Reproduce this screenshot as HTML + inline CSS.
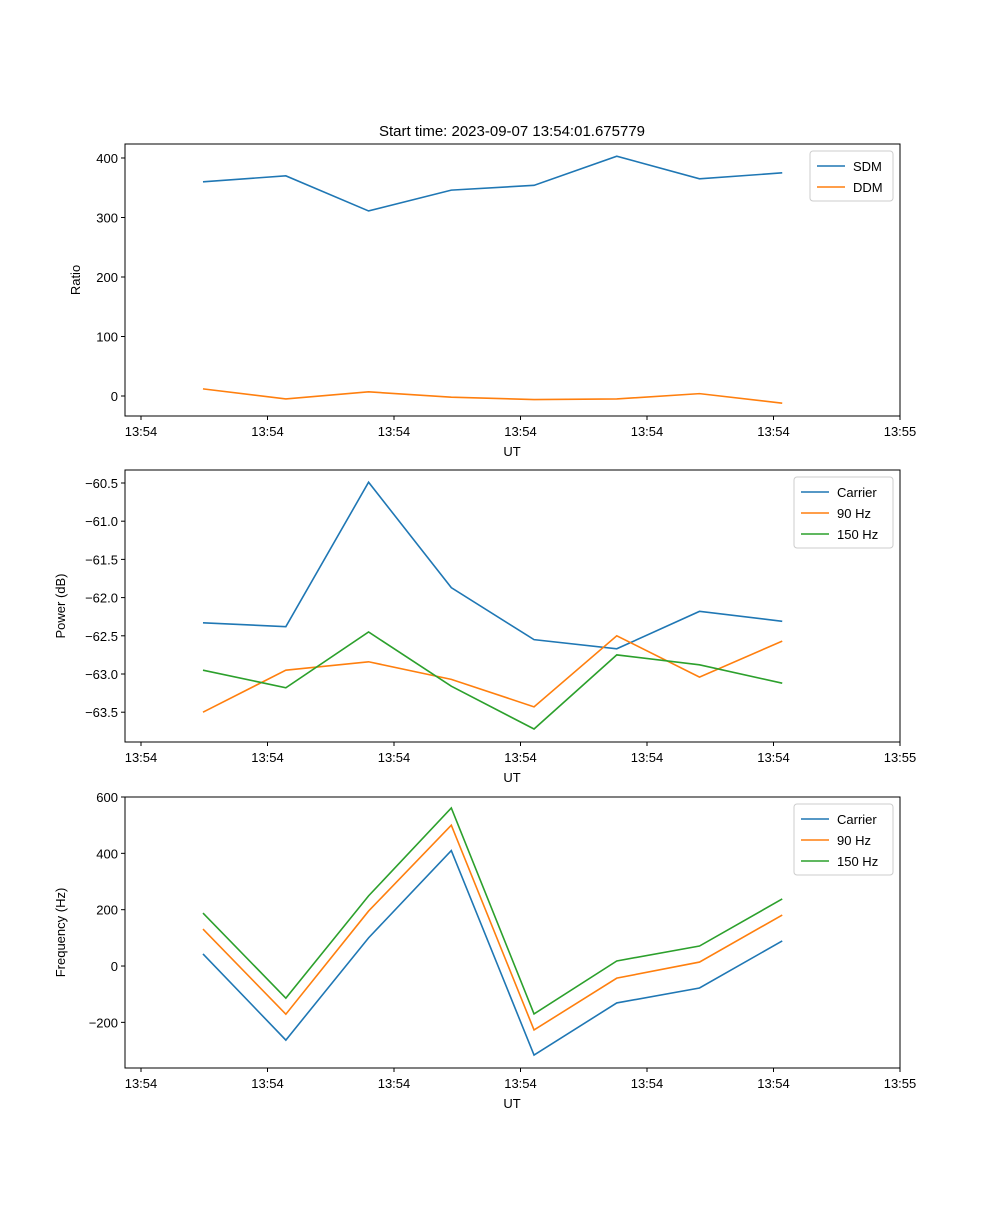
<!DOCTYPE html>
<html><head><meta charset="utf-8"><style>
body{margin:0;background:#fff}
svg text{font-family:"Liberation Sans","DejaVu Sans",sans-serif;fill:#000}
</style></head><body>
<svg id="fig" width="1000" height="1200" xmlns="http://www.w3.org/2000/svg">
<text x="512" y="136" font-size="15" text-anchor="middle">Start time: 2023-09-07 13:54:01.675779</text>
</svg>
<script>
const xTickLabels=["13:54","13:54","13:54","13:54","13:54","13:54","13:55"];
const times=[4.9,11.45,17.99,24.53,31.07,37.61,44.15,50.69];
const sdm=[360,370,311,346,354,403,365,375];
const ddm=[12,-5,7,-2,-6,-5,4,-12];
const pCarrier=[-62.33,-62.38,-60.49,-61.87,-62.55,-62.67,-62.18,-62.31];
const p90=[-63.50,-62.95,-62.84,-63.07,-63.43,-62.50,-63.04,-62.57];
const p150=[-62.95,-63.18,-62.45,-63.16,-63.72,-62.75,-62.88,-63.12];
const fCarrier=[43,-263,100,410,-316,-131,-78,89];
const f90=[131,-171,195,500,-227,-43,14,181];
const f150=[188,-114,249,561,-170,18,71,238];
const ratioTicks=[0,100,200,300,400];
const powerTicks=[-63.5,-63.0,-62.5,-62.0,-61.5,-61.0,-60.5];
const freqTicks=[-200,0,200,400,600];

const NS="http://www.w3.org/2000/svg";
const svg=document.getElementById('fig');
function el(t,a,p){const e=document.createElementNS(NS,t);for(const k in a)e.setAttribute(k,a[k]);(p||svg).appendChild(e);return e;}
const L=125,R=900;
function xs(t){return 141+(t/10)*126.5;}
const colors=["#1f77b4","#ff7f0e","#2ca02c"];
function panel(name,top,bot,ymin,ymax,yticks,fmt,ylabel,series,names,legW){
  const g=el('g',{});
  
  
  const ys=v=>bot-(v-ymin)/(ymax-ymin)*(bot-top);
  yticks.forEach(v=>{
    const y=ys(v);
    el('line',{x1:L-4,x2:L,y1:y,y2:y,stroke:'#000'},g);
    const t=el('text',{x:L-7,y:y+5,'font-size':13,'text-anchor':'end'},g);
    t.textContent=fmt(v);
    
    
  });
  xTickLabels.forEach((s,i)=>{
    const x=xs(i*10);
    el('line',{x1:x,x2:x,y1:bot,y2:bot+4,stroke:'#000'},g);
    const t=el('text',{x:x,y:bot+20,'font-size':13,'text-anchor':'middle'},g);
    t.textContent=s;
    
    
  });
  const xl=el('text',{x:512,y:bot+40,'font-size':13,'text-anchor':'middle'},g);
  xl.textContent='UT';
  
  
  const yl=el('text',{x:0,y:0,'font-size':13,'text-anchor':'middle',transform:`translate(${name==='ratio'?80:65},${(top+bot)/2}) rotate(-90)`},g);
  yl.textContent=ylabel;
  
  
  series.forEach((s,i)=>{
    const p=el('polyline',{points:s.map((v,j)=>xs(times[j])+','+ys(v)).join(' '),fill:'none',stroke:colors[i],'stroke-width':1.6},g);
    
    
  });
  el('rect',{x:L,y:top,width:R-L,height:bot-top,fill:'none',stroke:'#000','stroke-width':1},g);
  const lx=R-7-legW, ly=top+7, lh=8+names.length*21;
  const lg=el('g',{},g);
  
  
  el('rect',{x:lx,y:ly,width:legW,height:lh,rx:3,fill:'#fff',stroke:'#ccc'},lg);
  names.forEach((n,i)=>{
    const yy=ly+15+i*21;
    el('line',{x1:lx+7,x2:lx+35,y1:yy,y2:yy,stroke:colors[i],'stroke-width':1.6},lg);
    const t=el('text',{x:lx+43,y:yy+5,'font-size':13},lg);
    t.textContent=n;
    
    
  });
}
const minus=v=>String(v).replace('-','\u2212');
panel('ratio',144,416,-33.6,423.5,ratioTicks,v=>minus(v),'Ratio',[sdm,ddm],['SDM','DDM'],83);
panel('power',470,742,-63.89,-60.33,powerTicks,v=>minus(v.toFixed(1)),'Power (dB)',[pCarrier,p90,p150],['Carrier','90 Hz','150 Hz'],99);
panel('freq',797,1068,-362,600,freqTicks,v=>minus(v),'Frequency (Hz)',[fCarrier,f90,f150],['Carrier','90 Hz','150 Hz'],99);
</script>
</body></html>
